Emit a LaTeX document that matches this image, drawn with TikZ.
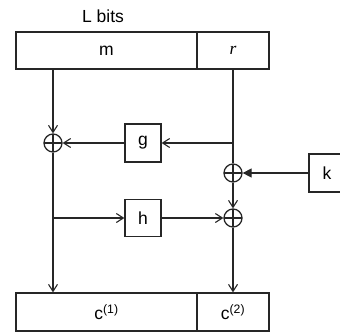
\documentclass[tikz,border=0pt]{standalone}
\usepackage{fontspec}
\setmainfont{Liberation Sans}
\newfontfamily\serifit{Liberation Serif}
\usetikzlibrary{arrows.meta,calc}
\begin{document}
\begin{tikzpicture}[x=1pt,y=-1pt,
  line width=1.3pt, draw=black!85,
  font=\fontsize{17.5}{20}\selectfont,
  cell/.style={draw, rectangle, inner sep=0pt, minimum height=37pt},
  fbox/.style={draw, rectangle, inner sep=0pt, minimum width=36pt, minimum height=37pt},
  xor/.style={draw, circle, inner sep=0pt, minimum size=18pt,
    path picture={\draw (path picture bounding box.north) -- (path picture bounding box.south)
      (path picture bounding box.west) -- (path picture bounding box.east);}},
  arr/.style={-{Straight Barb[length=7pt,width=9pt,line width=1.1pt]}},
  tri/.style={-{Triangle[length=9pt,width=9pt]}}]
\useasboundingbox (0,0) rectangle (340,333);
\node (lbits) at (103,16) {L bits};
\node[cell, minimum width=181pt] (mbox) at (106.5,50.5) {m};
\node[cell, minimum width=72pt] (rbox) at (233,50.5) {\raisebox{-2pt}{\serifit\itshape r}};
\node[cell, minimum width=181pt, minimum height=38pt] (c1box) at (106.5,312) {c\textsuperscript{(1)}};
\node[cell, minimum width=72pt, minimum height=38pt] (c2box) at (233,312) {c\textsuperscript{(2)}};
\node[xor] (x1) at (53,143) {};
\node[xor] (x2) at (233,173) {};
\node[xor] (x3) at (233,218) {};
\node[fbox, minimum height=38pt] (g) at (143,143) {g};
\node[fbox] (h) at (143,218) {h};
\node[fbox, minimum height=38pt] (k) at (327,173) {k};
\coordinate (br) at (x2 |- g);
\draw[arr] (x1 |- mbox.south) -- (x1);
\draw[arr] (x1) -- (x1 |- c1box.north);
\draw (x2 |- rbox.south) -- (x2);
\draw[arr] (br) -- (g);
\draw[arr] (g) -- (x1);
\draw[tri] (k) -- (x2);
\draw[arr] (x2) -- (x3);
\draw[arr] (x1 |- h) -- (h);
\draw[arr] (h) -- (x3);
\draw[arr] (x3) -- (x3 |- c2box.north);
\end{tikzpicture}
\end{document}
